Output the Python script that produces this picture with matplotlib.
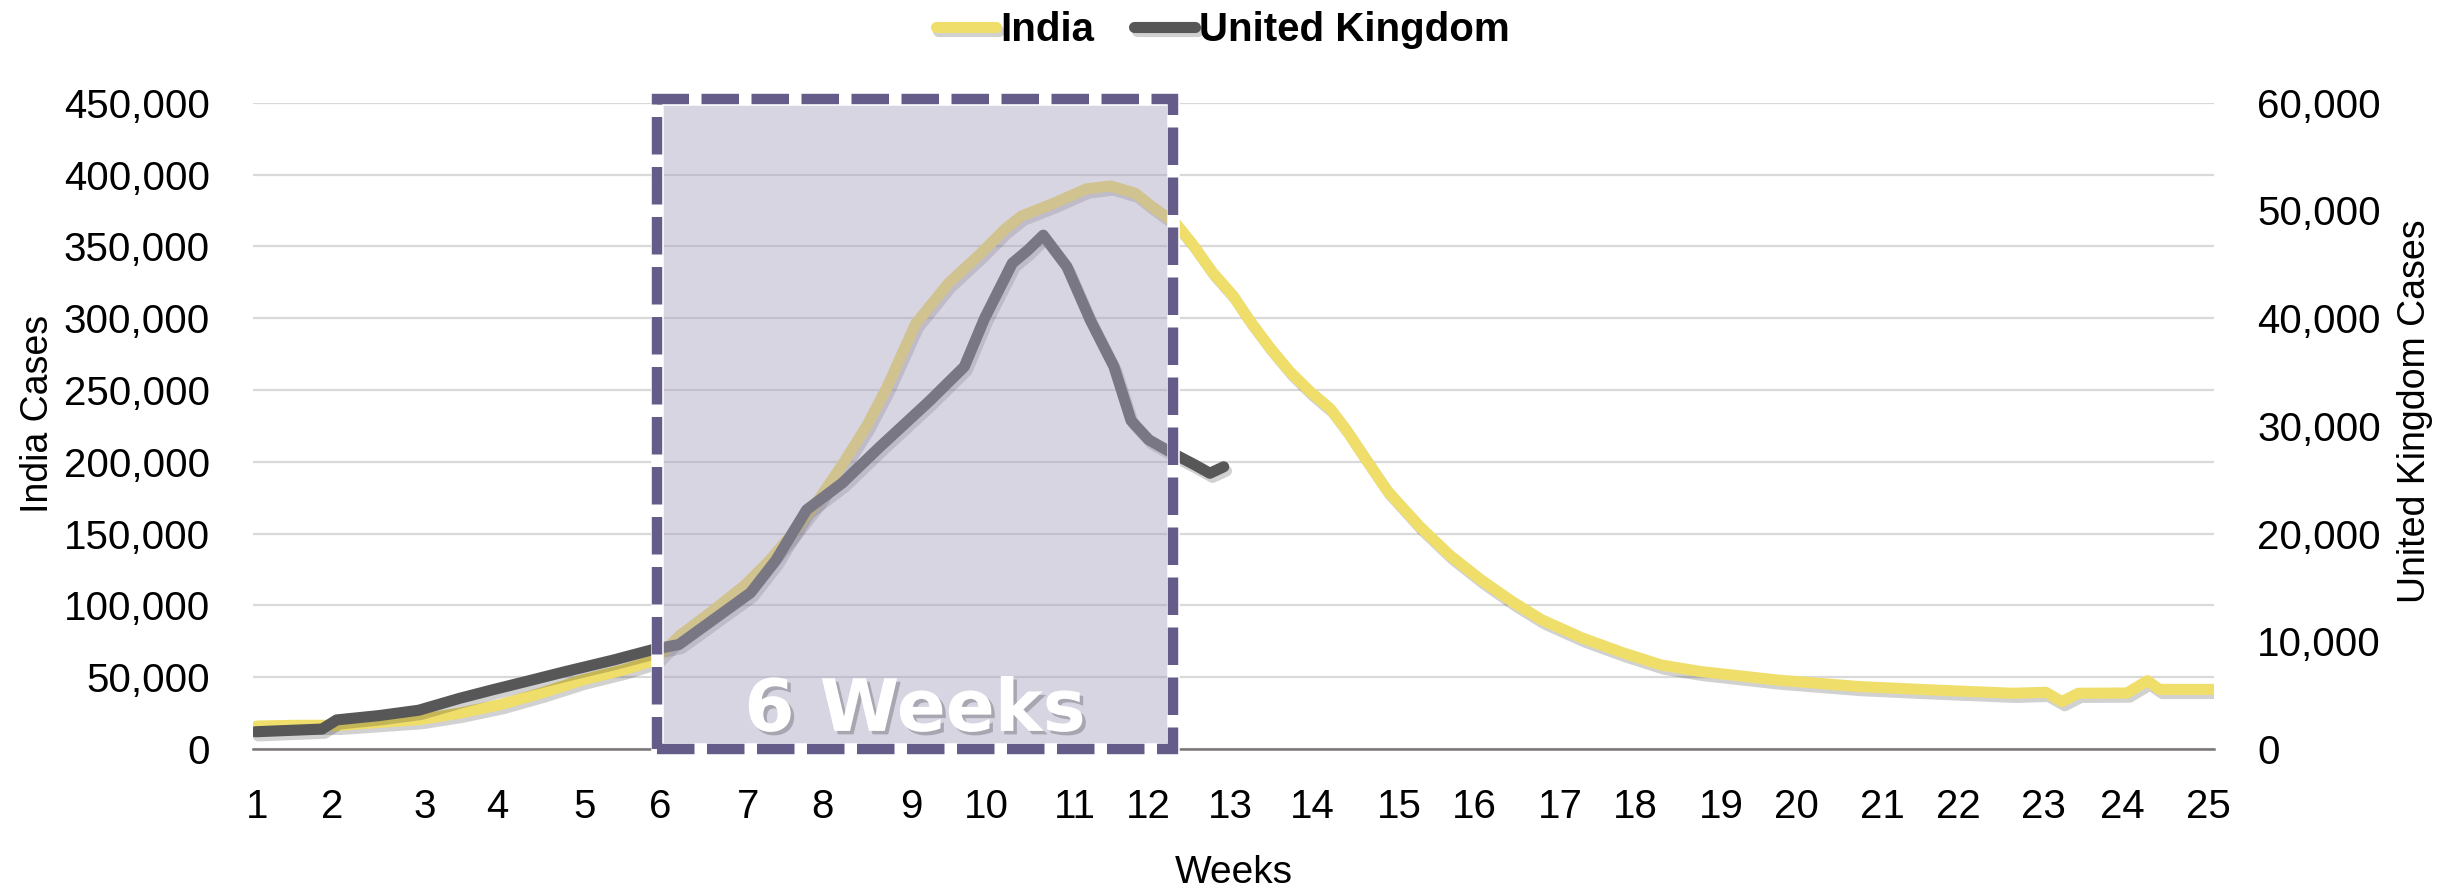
import matplotlib
matplotlib.use("Agg")
from matplotlib import pyplot as plt
from matplotlib import patheffects as pe
from matplotlib import font_manager
from matplotlib.patches import Rectangle

# 数据（按周读取）
india_weeks = [1.0, 1.5, 2.0, 2.5, 3.0, 3.5, 4.0, 4.5, 5.0, 5.5, 5.9, 6.2, 6.6, 7.0, 7.3, 7.6, 7.9,
               8.2, 8.5, 8.75, 9.1, 9.5, 9.9, 10.2, 10.4, 10.8, 11.2, 11.5, 11.8, 12.0, 12.3, 12.5,
               12.75, 13.0, 13.2, 13.45, 13.7, 13.95, 14.2, 14.4, 14.6, 14.9, 15.3, 15.67, 16.05,
               16.44, 16.8, 17.3, 17.8, 18.27, 18.75, 19.7, 20.7, 21.65, 22.6, 23.0, 23.2, 23.4,
               24.0, 24.25, 24.4, 25.07]
india_cases = [16000, 16500, 16500, 18500, 20500, 25000, 31000, 39000, 48000, 55000, 62000, 79000,
               96000, 114000, 131000, 151000, 173000, 198000, 225000, 252000, 296000, 324000,
               345000, 362000, 371000, 380000, 390000, 392000, 387000, 378000, 366000, 352000,
               332000, 316000, 299000, 280000, 263000, 249000, 237000, 222000, 205000, 180000,
               155000, 135000, 118000, 102600, 90000, 77300, 67000, 58500, 54000, 48000, 43500,
               41000, 38800, 39500, 33000, 38800, 39000, 47500, 41500, 41500]

uk_weeks = [0.98, 1.8, 1.98, 2.5, 2.99, 3.49, 3.9, 4.3, 4.8, 5.38, 5.88, 6.19, 6.63, 7.07, 7.38,
            7.76, 8.2, 8.64, 9.27, 9.7, 9.95, 10.29, 10.48, 10.67, 10.96, 11.25, 11.54, 11.75,
            11.97, 12.25, 12.53, 12.72, 12.89]
uk_cases = [1600, 1850, 2700, 3100, 3600, 4700, 5500, 6250, 7200, 8250, 9250, 9700, 12100, 14500,
            17500, 22200, 24700, 27900, 32300, 35500, 40000, 45100, 46300, 47700, 44800, 39800,
            35500, 30500, 28700, 27500, 26400, 25600, 26200]

# x轴刻度（周）
week_labels = [str(i) for i in range(1, 26)]
week_ticks = [1.0, 1.92, 3.06, 3.96, 5.03, 5.96, 7.04, 7.96, 9.05, 9.97, 11.06, 11.96, 12.97,
              13.98, 15.05, 15.97, 17.03, 17.95, 19.01, 19.93, 20.99, 21.93, 22.97, 23.94, 25.0]
box_start, box_end = 5.92, 12.27

# 字体：有窄体就用窄体，否则用常规体并缩小字号
installed = {f.name for f in font_manager.fontManager.ttflist}
regular = ['Liberation Sans', 'DejaVu Sans']
if 'Liberation Sans Narrow' in installed:
    narrow = ['Liberation Sans Narrow'] + regular
    tick_size, legend_size, xlabel_size = 33, 35, 34
else:
    narrow = regular
    tick_size, legend_size, xlabel_size = 29, 29, 28

fig = plt.figure(figsize=(24.6, 8.92), dpi=100)
ax = fig.add_axes([253 / 2460, 1 - 749 / 892, (2214 - 253) / 2460, (749 - 102.7) / 892])
ax2 = ax.twinx()

shadow = [pe.SimpleLineShadow(offset=(2, -3), shadow_color='black', alpha=0.18), pe.Normal()]
l1, = ax.plot(india_weeks, india_cases, color='#f0de6b', lw=8, solid_capstyle='round',
              solid_joinstyle='round', label='India', path_effects=shadow, zorder=3)
l2, = ax2.plot(uk_weeks, uk_cases, color='#575757', lw=8, solid_capstyle='round',
               solid_joinstyle='round', label='United Kingdom', path_effects=shadow, zorder=3)

ax.set_xlim(0.951, 25.07)
ax.set_ylim(0, 450000)
ax2.set_ylim(0, 60000)
ax.set_yticks(range(0, 450001, 50000))
ax2.set_yticks(range(0, 60001, 10000))
ax.set_yticklabels([f"{v:,}" for v in range(0, 450001, 50000)])
ax2.set_yticklabels([f"{v:,}" for v in range(0, 60001, 10000)])
ax.set_xticks(week_ticks)
ax.set_xticklabels(week_labels)

for a in (ax, ax2):
    for s in a.spines.values():
        s.set_visible(False)
ax.spines['bottom'].set_visible(True)
ax.spines['bottom'].set_color('#7a7575')
ax.spines['bottom'].set_linewidth(1.8)

ax.tick_params(axis='y', length=0, pad=31)
ax.tick_params(axis='x', length=0, pad=28)
ax2.tick_params(axis='y', length=0, pad=31)
for lab in ax.get_xticklabels() + ax.get_yticklabels() + ax2.get_yticklabels():
    lab.set_family(narrow)
    lab.set_fontsize(tick_size)

ax.grid(axis='y', color='#d9d9d9', lw=1.6)
ax.set_axisbelow(True)

# 阴影框
trans = ax2.get_xaxis_transform()
ax2.add_patch(Rectangle((box_start, 0), box_end - box_start, 1.005, transform=trans,
                        facecolor='#a8a1bf', alpha=0.44, edgecolor='none', zorder=5,
                        clip_on=False))
ax2.add_patch(Rectangle((box_start, 0), box_end - box_start, 1.005, transform=trans,
                        facecolor='none', edgecolor='white', lw=9, zorder=6, clip_on=False))
ax2.add_patch(Rectangle((box_start, 0), box_end - box_start, 1.005, transform=trans,
                        facecolor='none', edgecolor='#655c8a', lw=7.5, linestyle=(0, (3.6, 1.2)),
                        capstyle='butt', zorder=7, clip_on=False))

ax2.text((box_start + box_end) / 2, 0.028, '6 Weeks', transform=trans, ha='center',
         va='baseline', fontsize=52, fontweight='bold', family='DejaVu Sans', color='white',
         zorder=8, path_effects=[pe.withSimplePatchShadow(offset=(2.5, -2.5), shadow_rgbFace='black',
                                                          alpha=0.22)])

# 坐标轴标题
fig.text(0.01565, 0.5359, 'India Cases', rotation=90, ha='center', va='center',
         fontsize=27, family=regular)
fig.text(0.9817, 0.539, 'United Kingdom Cases', rotation=90, ha='center', va='center',
         fontsize=27, family=regular)
fig.text(0.5016, 0.0101, 'Weeks', ha='center', va='baseline', fontsize=xlabel_size, family=narrow)

fig.legend(handles=[l1, l2], loc='center', bbox_to_anchor=(0.497, 0.966), ncol=2,
           frameon=False, handlelength=1.5, handletextpad=0.1, columnspacing=1.0,
           prop={'family': narrow, 'weight': 'bold', 'size': legend_size})

plt.savefig('out.png', dpi=100)
